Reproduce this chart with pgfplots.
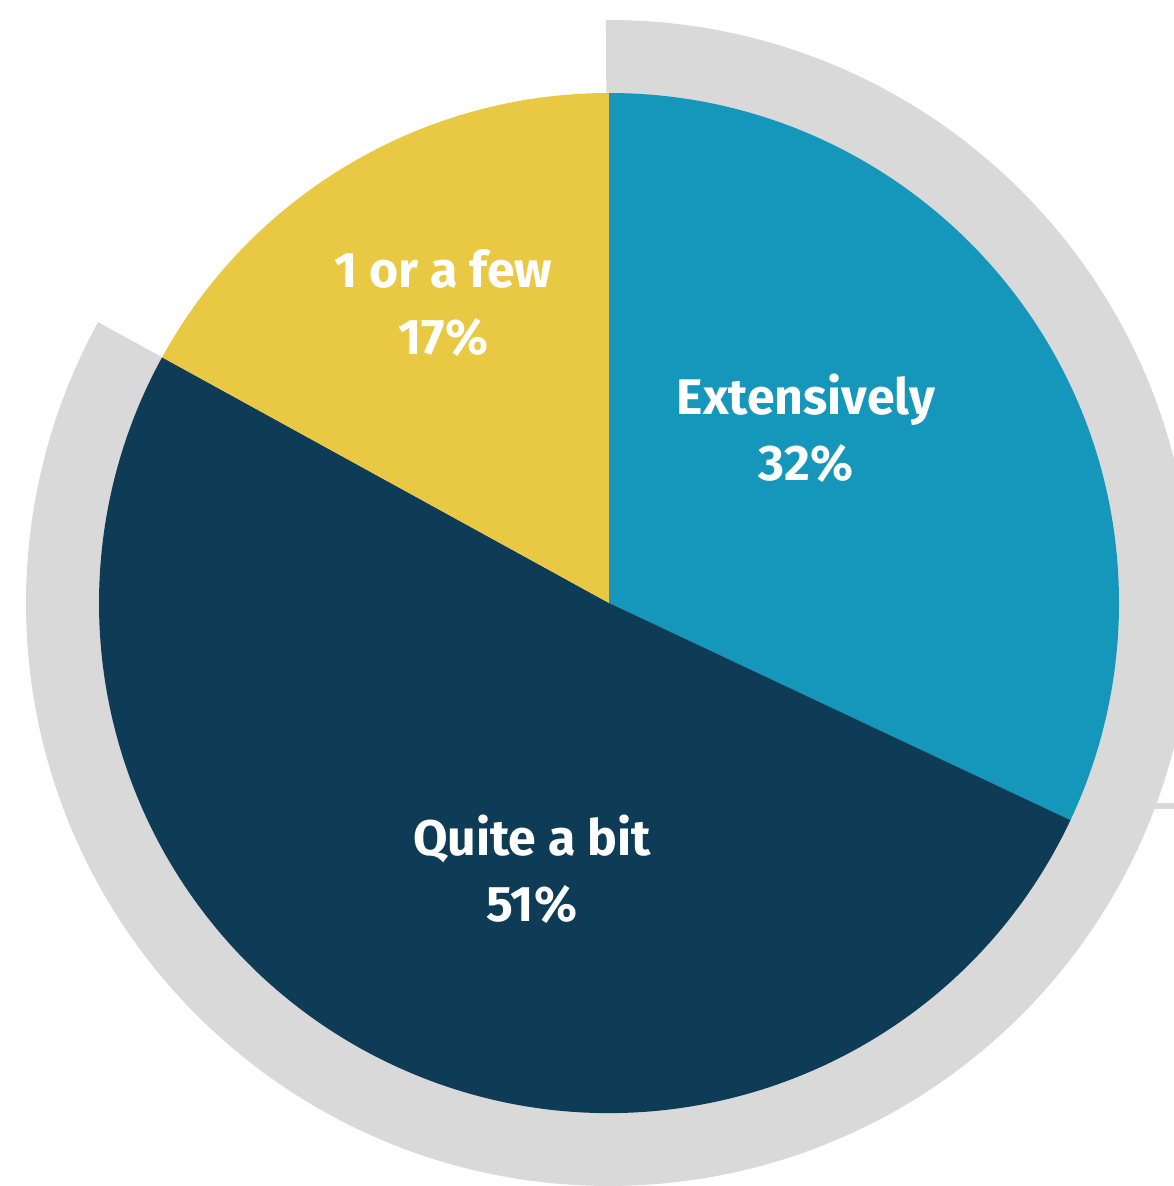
\documentclass[border=0pt]{standalone}
\usepackage{pgfplots}
\usepackage{pgfplotstable}
\pgfplotsset{compat=1.18}
\usepackage{fontspec}
\setmainfont{Fira Sans}
\definecolor{cExt}{HTML}{1596BB}
\definecolor{cQab}{HTML}{0E3B55}
\definecolor{cFew}{HTML}{E9C844}
\definecolor{cRing}{HTML}{D9D9D9}
\pgfplotstableread{
label value
Extensively 32
Quite 51
Few 17
}\piedata
\begin{document}%
\begin{tikzpicture}
\pgfplotstablegetelem{0}{value}\of\piedata \global\let\vA\pgfplotsretval
\pgfplotstablegetelem{1}{value}\of\piedata \global\let\vB\pgfplotsretval
\pgfplotstablegetelem{2}{value}\of\piedata \global\let\vC\pgfplotsretval
\pgfmathsetmacro\aA{90-3.6*\vA}\global\let\aA\aA
\pgfmathsetmacro\aB{\aA-3.6*\vB}\global\let\aB\aB
\pgfmathsetmacro\aC{\aB-3.6*\vC}\global\let\aC\aC
\begin{axis}[x=153pt,y=153pt,xmin=-1.1941,xmax=1.1078,ymin=-1.1431,ymax=1.1824,
  hide axis, clip=true]
\coordinate (ll) at (axis cs:-1.1941,-1.1431);
\coordinate (ur) at (axis cs:1.1078,1.1824);
\fill[cRing] (axis cs:0,0) -- (axis cs:-0.006,1.1431) arc[start angle=90.3,end angle=\aB,radius=1.1431*153pt] -- cycle;
\draw[cRing, line width=1.8pt] (axis cs:1.06,-0.398) -- (axis cs:1.3,-0.398);
\fill[cExt] (axis cs:0,0) -- (axis cs:0,1) arc[start angle=90,end angle=\aA,radius=153pt] -- cycle;
\fill[cQab] (axis cs:0,0) -- (axis cs:{cos(\aA)},{sin(\aA)}) arc[start angle=\aA,end angle=\aB,radius=153pt] -- cycle;
\fill[cFew] (axis cs:0,0) -- (axis cs:{cos(\aB)},{sin(\aB)}) arc[start angle=\aB,end angle=\aC,radius=153pt] -- cycle;
\tikzset{lbl/.style={text=white, align=center, font=\bfseries\fontsize{15}{20}\selectfont}}
\node[lbl] at (axis cs:0.386,0.343) {Extensively\\\vA\%};
\node[lbl] at (axis cs:-0.325,0.588) {1 or a few\\\vC\%};
\node[lbl] at (axis cs:-0.151,-0.522) {Quite a bit\\\vB\%};
\end{axis}
\pgfresetboundingbox
\path[use as bounding box] (ll) rectangle (ur);
\end{tikzpicture}%
\end{document}
